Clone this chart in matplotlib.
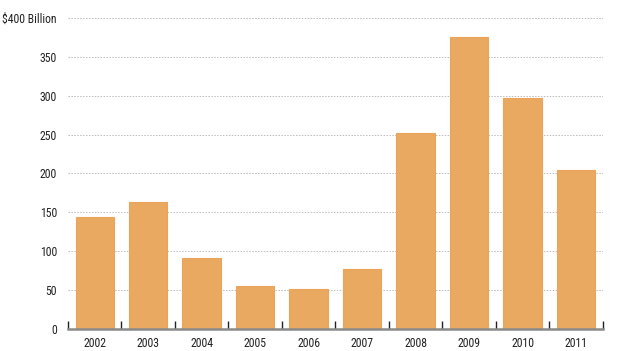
import matplotlib.pyplot as plt
from matplotlib import font_manager
import numpy as np

years = ["2002", "2003", "2004", "2005", "2006", "2007", "2008", "2009", "2010", "2011"]
values = [144, 163, 91, 55, 51, 77, 252, 375, 297, 204]
yticks = [0, 50, 100, 150, 200, 250, 300, 350, 400]
ytick_labels = ["0", "50", "100", "150", "200", "250", "300", "350", "$400 Billion"]

# узкий шрифт, если есть
names = {f.name for f in font_manager.fontManager.ttflist}
fam = 'Liberation Sans'
for cand in ['Liberation Sans Narrow', 'DejaVu Sans Condensed', 'Roboto Condensed']:
    if cand in names:
        fam = cand
        break
plt.rcParams['font.family'] = [fam, 'DejaVu Sans']
fs = 8.5 if fam != 'Liberation Sans' else 8

fig = plt.figure(figsize=(6.24, 3.51), dpi=100)
ax = fig.add_axes([0.109, 0.063, 0.857, 0.886])

x = np.arange(len(years))
ax.bar(x, values, width=0.72, color='#E9A961', edgecolor='#EBA45A', linewidth=0.8, zorder=3)

ax.set_xlim(-0.5, len(years) - 0.5)
ax.set_ylim(0, 400)

# Сетка
ax.set_yticks(yticks)
ax.set_yticklabels(ytick_labels, fontsize=fs, color='#222222')
ax.yaxis.grid(True, linestyle=(0, (1.5, 1.5)), color='#bbbbbb', linewidth=0.7, zorder=0)
ax.tick_params(axis='y', length=0, pad=8)

ax.set_xticks(x)
ax.set_xticklabels(years, fontsize=fs, color='#222222')
ax.tick_params(axis='x', which='major', length=0, pad=6)
ax.set_xticks(np.arange(-0.5, len(years)), minor=True)
ax.tick_params(axis='x', which='minor', direction='in', length=6, width=1, color='#222222')

for s in ['top', 'right', 'left']:
    ax.spines[s].set_visible(False)
ax.spines['bottom'].set_color('#8a8a8a')
ax.spines['bottom'].set_linewidth(1.8)
ax.spines['bottom'].set_zorder(4)

fig.savefig("out.png", dpi=100)
